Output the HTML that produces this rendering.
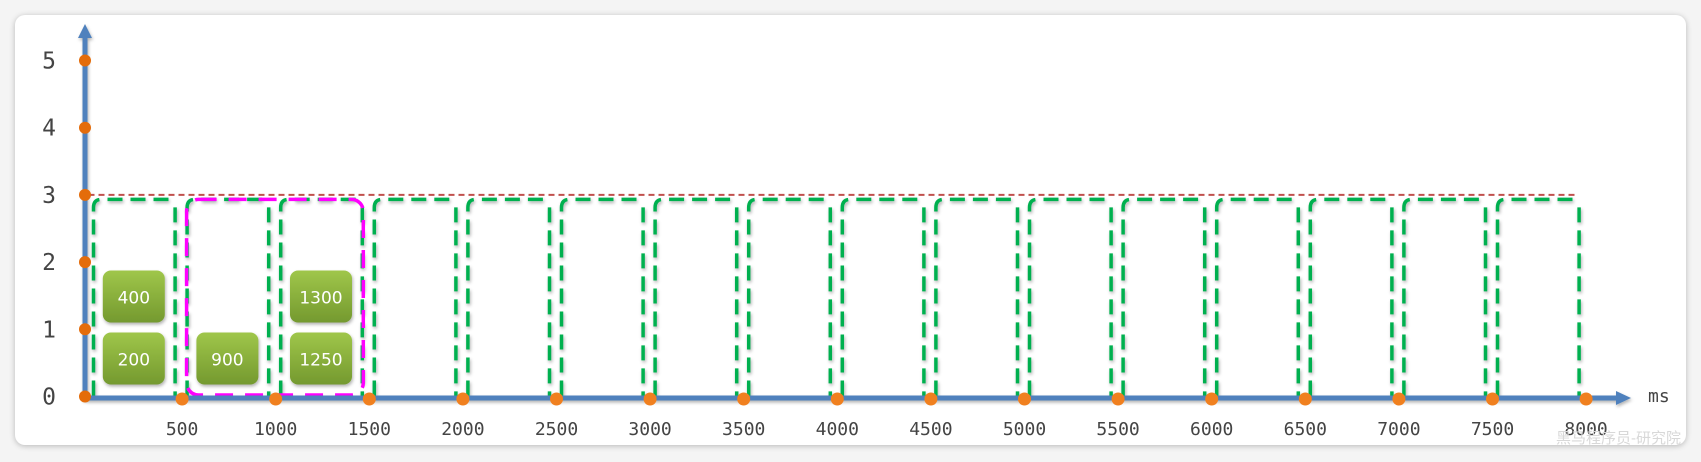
<!DOCTYPE html>
<html><head><meta charset="utf-8"><style>
html,body{margin:0;padding:0;width:1701px;height:462px;background:#f4f4f4;overflow:hidden}
#card{position:absolute;left:15px;top:15px;width:1671px;height:430px;background:#fff;border-radius:10px;box-shadow:0 1px 6px rgba(0,0,0,.25)}
svg{position:absolute;left:0;top:0}
</style></head><body>
<div id="card"></div>
<svg id="chart" width="1701" height="462">
<defs>
<linearGradient id="tg" x1="0" y1="0" x2="0" y2="1"><stop offset="0" stop-color="#9fc64a"/><stop offset="1" stop-color="#74992f"/></linearGradient>
<filter id="sh" x="-20%" y="-20%" width="140%" height="140%"><feDropShadow dx="1" dy="2" stdDeviation="1.5" flood-color="#000" flood-opacity="0.3"/></filter>
</defs>
</svg>
<script>
const yTicks=[0,1,2,3,4,5];
const xTicks=[500,1000,1500,2000,2500,3000,3500,4000,4500,5000,5500,6000,6500,7000,7500,8000];
const windowStarts=[0,500,1000,1500,2000,2500,3000,3500,4000,4500,5000,5500,6000,6500,7000,7500];
const limit=[3];
const requestTimes=[200,400,900,1250,1300];
const windowSize=[500];
const highlight=[500,1500];

const NS='http://www.w3.org/2000/svg';
const svg=document.getElementById('chart');
const X=v=>88.5+v*0.1872;
const Y=v=>396.5-v*67.2;
function mk(t,a,parent){const e=document.createElementNS(NS,t);for(const k in a)e.setAttribute(k,a[k]);(parent||svg).appendChild(e);return e;}

// limit line
let e=mk('line',{x1:X(0),x2:X(8000)-11,y1:Y(limit[0]),y2:Y(limit[0]),stroke:'#c0504d','stroke-width':2,'stroke-dasharray':'6 4'});



// windows
windowStarts.forEach((s,i)=>{
  const l=X(s)+5,r=X(s+windowSize[0])-7,t=Y(limit[0])+4.5,b=Y(0)-1;
  const g=mk('g',{filter:'url(#sh)'});
  
  
  mk('path',{d:`M${l},${b} V${t+8} Q${l},${t} ${l+8},${t} H${r}`,fill:'none',stroke:'#00b050','stroke-width':3.5,'stroke-dasharray':'15 8'},g);
  mk('line',{x1:r,x2:r,y1:t+8,y2:b,stroke:'#00b050','stroke-width':3.5,'stroke-dasharray':'15 8'},g);
});

// highlight sliding window
e=mk('rect',{x:X(highlight[0])+4.5,y:Y(limit[0])+4.5,width:X(highlight[1])-X(highlight[0])-10.5,height:Y(0)-Y(limit[0])-6,rx:12,fill:'none',stroke:'#ff00ff','stroke-width':3.5,'stroke-dasharray':'18 12'});



// requests
const counts={};
requestTimes.forEach(t=>{
  const w=Math.floor(t/windowSize[0]);const row=counts[w]||0;counts[w]=row+1;
  const cx=(X(w*windowSize[0])+X((w+1)*windowSize[0]))/2-1.5;
  const by=Y(0)-12-row*62;
  const g=mk('g',{filter:'url(#sh)'});
  
  
  mk('rect',{x:cx-31,y:by-52,width:62,height:52,rx:8,fill:'url(#tg)'},g);
  const tx=mk('text',{x:cx,y:by-19,'text-anchor':'middle','font-family':'DejaVu Sans, Liberation Sans, sans-serif','font-size':17,fill:'#fff'},g);
  tx.textContent=t;
});

// axes
e=mk('g',{filter:'url(#sh)'});


mk('line',{x1:X(0)-3,x2:1618,y1:398,y2:398,stroke:'#4f81bd','stroke-width':5},e);
mk('polygon',{points:'1616,391 1631,398 1616,405',fill:'#4f81bd'},e);
mk('line',{x1:85,x2:85,y1:400,y2:36,stroke:'#4f81bd','stroke-width':5},e);
mk('polygon',{points:'78,38 85,24 92,38',fill:'#4f81bd'},e);

// y ticks
yTicks.forEach(v=>{
  const c=mk('circle',{cx:85,cy:Y(v),r:6,fill:'#e46c0a'});
  
  
  const t=mk('text',{x:49,y:Y(v)+8,'text-anchor':'middle','font-family':'DejaVu Sans Mono, Liberation Mono, monospace','font-size':23,fill:'#444'});
  
  
  t.textContent=v;
});
// x ticks
xTicks.forEach(v=>{
  const c=mk('circle',{cx:X(v),cy:399,r:6.5,fill:'#f0801f'});
  
  
  const t=mk('text',{x:X(v),y:435,'text-anchor':'middle','font-family':'DejaVu Sans Mono, Liberation Mono, monospace','font-size':18,fill:'#444'});
  
  
  t.textContent=v;
});
e=mk('text',{x:1648,y:402,'font-family':'DejaVu Sans Mono, Liberation Mono, monospace','font-size':18,fill:'#444'});


e.textContent='ms';
e=mk('text',{x:1681,y:443,'text-anchor':'end','font-family':'Liberation Sans, Noto Sans CJK SC, sans-serif','font-size':15,fill:'#d8d8d8'});


e.textContent='黑马程序员-研究院';
</script>
</body></html>
